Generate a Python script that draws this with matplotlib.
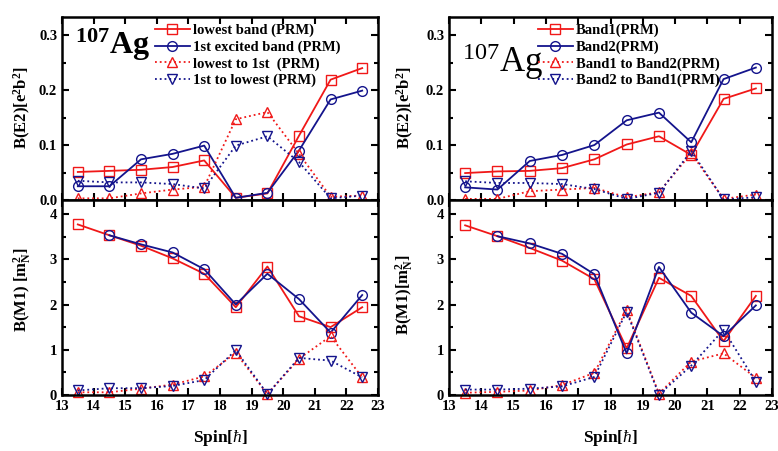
import numpy as np
import matplotlib.pyplot as plt
from matplotlib.ticker import MultipleLocator

plt.rcParams['font.family'] = ['Liberation Serif', 'DejaVu Serif']
plt.rcParams['mathtext.fontset'] = 'custom'
plt.rcParams['mathtext.rm'] = 'Liberation Serif'
plt.rcParams['mathtext.bf'] = 'Liberation Serif:bold'
plt.rcParams['mathtext.it'] = 'Liberation Serif:italic'

spin = [13.5, 14.5, 15.5, 16.5, 17.5, 18.5, 19.5, 20.5, 21.5, 22.5]
nan = np.nan

# left column: B(E2)
e2_low = [0.051, 0.053, 0.055, 0.060, 0.072, 0.004, 0.012, 0.117, 0.219, 0.240]
e2_exc = [0.025, 0.025, 0.074, 0.084, 0.099, 0.004, 0.013, 0.090, 0.183, 0.199]
e2_low_to_1st = [0.003, 0.003, 0.012, 0.019, 0.024, 0.147, 0.160, 0.084, 0.006, 0.008]
e2_1st_to_low = [0.035, 0.032, 0.032, 0.029, 0.021, 0.099, 0.116, 0.069, 0.003, 0.008]
# left column: B(M1)
m1_low = [3.77, 3.53, 3.30, 3.02, 2.68, 1.94, 2.84, 1.74, 1.50, 1.94]
m1_exc = [nan, 3.53, 3.33, 3.15, 2.78, 2.00, 2.68, 2.12, 1.38, 2.21]
m1_low_to_1st = [0.06, 0.06, 0.14, 0.23, 0.41, 0.93, 0.02, 0.80, 1.30, 0.39]
m1_1st_to_low = [0.10, 0.15, 0.15, 0.20, 0.33, 0.99, 0.02, 0.82, 0.76, 0.39]

# right column: B(E2)
e2_b1 = [0.049, 0.052, 0.053, 0.058, 0.074, 0.101, 0.116, 0.082, 0.184, 0.203]
e2_b2 = [0.023, 0.019, 0.071, 0.082, 0.100, 0.145, 0.159, 0.105, 0.220, 0.241]
e2_b1_to_b2 = [0.002, 0.002, 0.016, 0.019, 0.022, 0.005, 0.014, 0.085, 0.002, 0.010]
e2_b2_to_b1 = [0.034, 0.031, 0.031, 0.029, 0.020, 0.002, 0.013, 0.089, 0.001, 0.005]
# right column: B(M1)
m1_b1 = [3.75, 3.51, 3.25, 2.97, 2.56, 1.03, 2.59, 2.19, 1.19, 2.19]
m1_b2 = [nan, 3.51, 3.35, 3.12, 2.67, 0.92, 2.83, 1.82, 1.30, 1.98]
m1_b1_to_b2 = [0.05, 0.07, 0.10, 0.22, 0.49, 1.88, 0.03, 0.74, 0.92, 0.38]
m1_b2_to_b1 = [0.12, 0.12, 0.14, 0.19, 0.40, 1.84, 0.01, 0.65, 1.44, 0.29]

labels_left = ['lowest band (PRM)', '1st excited band (PRM)', 'lowest to 1st  (PRM)', '1st to lowest (PRM)']
labels_right = ['Band1(PRM)', 'Band2(PRM)', 'Band1 to Band2(PRM)', 'Band2 to Band1(PRM)']

RED = '#f01818'
BLUE = '#14148c'


def dibujar(ax, series, labels=None):
    estilos = [('-', 's', RED), ('-', 'o', BLUE), (':', '^', RED), (':', 'v', BLUE)]
    for (ls, mk, c), y, lab in zip(estilos, series, labels or [None] * 4):
        ax.plot(spin, y, ls=ls, marker=mk, color=c, mfc='none', mec=c, ms=7,
                lw=1.3, mew=1.0, label=lab, clip_on=False)


def ejes(ax, ylim, major, minor, xlabels):
    ax.set_xlim(13, 23)
    ax.set_ylim(*ylim)
    ax.xaxis.set_major_locator(MultipleLocator(1))
    ax.yaxis.set_major_locator(MultipleLocator(major))
    ax.yaxis.set_minor_locator(MultipleLocator(minor))
    ax.tick_params(which='both', direction='in', top=True, right=True, width=1.5)
    ax.tick_params(which='major', length=5, labelsize=10.5)
    ax.tick_params(which='minor', length=3)
    for s in ax.spines.values():
        s.set_linewidth(1.8)
    if not xlabels:
        ax.tick_params(labelbottom=False)


fig = plt.figure(figsize=(7.78, 4.51), dpi=100)

W, H = 778, 451
def caja(x0, y0, x1, y1):
    return [x0 / W, 1 - y1 / H, (x1 - x0) / W, (y1 - y0) / H]

axL1 = fig.add_axes(caja(62, 17, 378, 200))
axL2 = fig.add_axes(caja(62, 200, 378, 395))
axR1 = fig.add_axes(caja(449, 17, 772, 200))
axR2 = fig.add_axes(caja(449, 200, 772, 395))

dibujar(axL1, [e2_low, e2_exc, e2_low_to_1st, e2_1st_to_low], labels_left)
dibujar(axL2, [m1_low, m1_exc, m1_low_to_1st, m1_1st_to_low])
dibujar(axR1, [e2_b1, e2_b2, e2_b1_to_b2, e2_b2_to_b1], labels_right)
dibujar(axR2, [m1_b1, m1_b2, m1_b1_to_b2, m1_b2_to_b1])

for ax in (axL1, axR1):
    ejes(ax, (0, 0.333), 0.1, 0.05, False)
    ax.yaxis.set_major_formatter(plt.FormatStrFormatter('%.1f'))
for ax in (axL2, axR2):
    ejes(ax, (0, 4.31), 1, 0.5, True)
for ax in (axL1, axL2, axR1, axR2):
    for t in ax.get_xticklabels() + ax.get_yticklabels():
        t.set_fontweight('bold')

for ax, x0 in ((axL1, 0.275), (axR1, 0.257)):
    ax.legend(loc='upper left', bbox_to_anchor=(x0, 0.995), frameon=False,
              prop={'weight': 'bold', 'size': 10.5}, handlelength=2.4,
              handletextpad=0.2, labelspacing=0.22, borderaxespad=0.0)

# titulos de nucleo
axL1.text(0.04, 0.80, r'$^{\mathbf{107}}$Ag', transform=axL1.transAxes,
          fontsize=23, fontweight='bold')
axR1.text(0.04, 0.70, r'$^{107}$Ag', transform=axR1.transAxes, fontsize=25)

fig.text(22 / W, 1 - 108 / H, r'B(E2)[e$^\mathbf{2}$b$^\mathbf{2}$]', rotation=90,
         ha='center', va='center', fontsize=12, fontweight='bold')
fig.text(23 / W, 1 - 290 / H, r'B(M1) [m$_\mathbf{N}^\mathbf{2}$]', rotation=90,
         ha='center', va='center', fontsize=12, fontweight='bold')
fig.text(405 / W, 1 - 108 / H, r'B(E2)[e$^\mathbf{2}$b$^\mathbf{2}$]', rotation=90,
         ha='center', va='center', fontsize=12, fontweight='bold')
fig.text(405 / W, 1 - 295 / H, r'B(M1)[m$_\mathbf{N}^\mathbf{2}$]', rotation=90,
         ha='center', va='center', fontsize=12, fontweight='bold')

fig.text(220 / W, 1 - 438 / H, r'Spin[$\hbar$]', ha='center', va='center',
         fontsize=12.5, fontweight='bold')
fig.text(610 / W, 1 - 438 / H, r'Spin[$\hbar$]', ha='center', va='center',
         fontsize=12.5, fontweight='bold')

fig.savefig('out.png', dpi=100)
